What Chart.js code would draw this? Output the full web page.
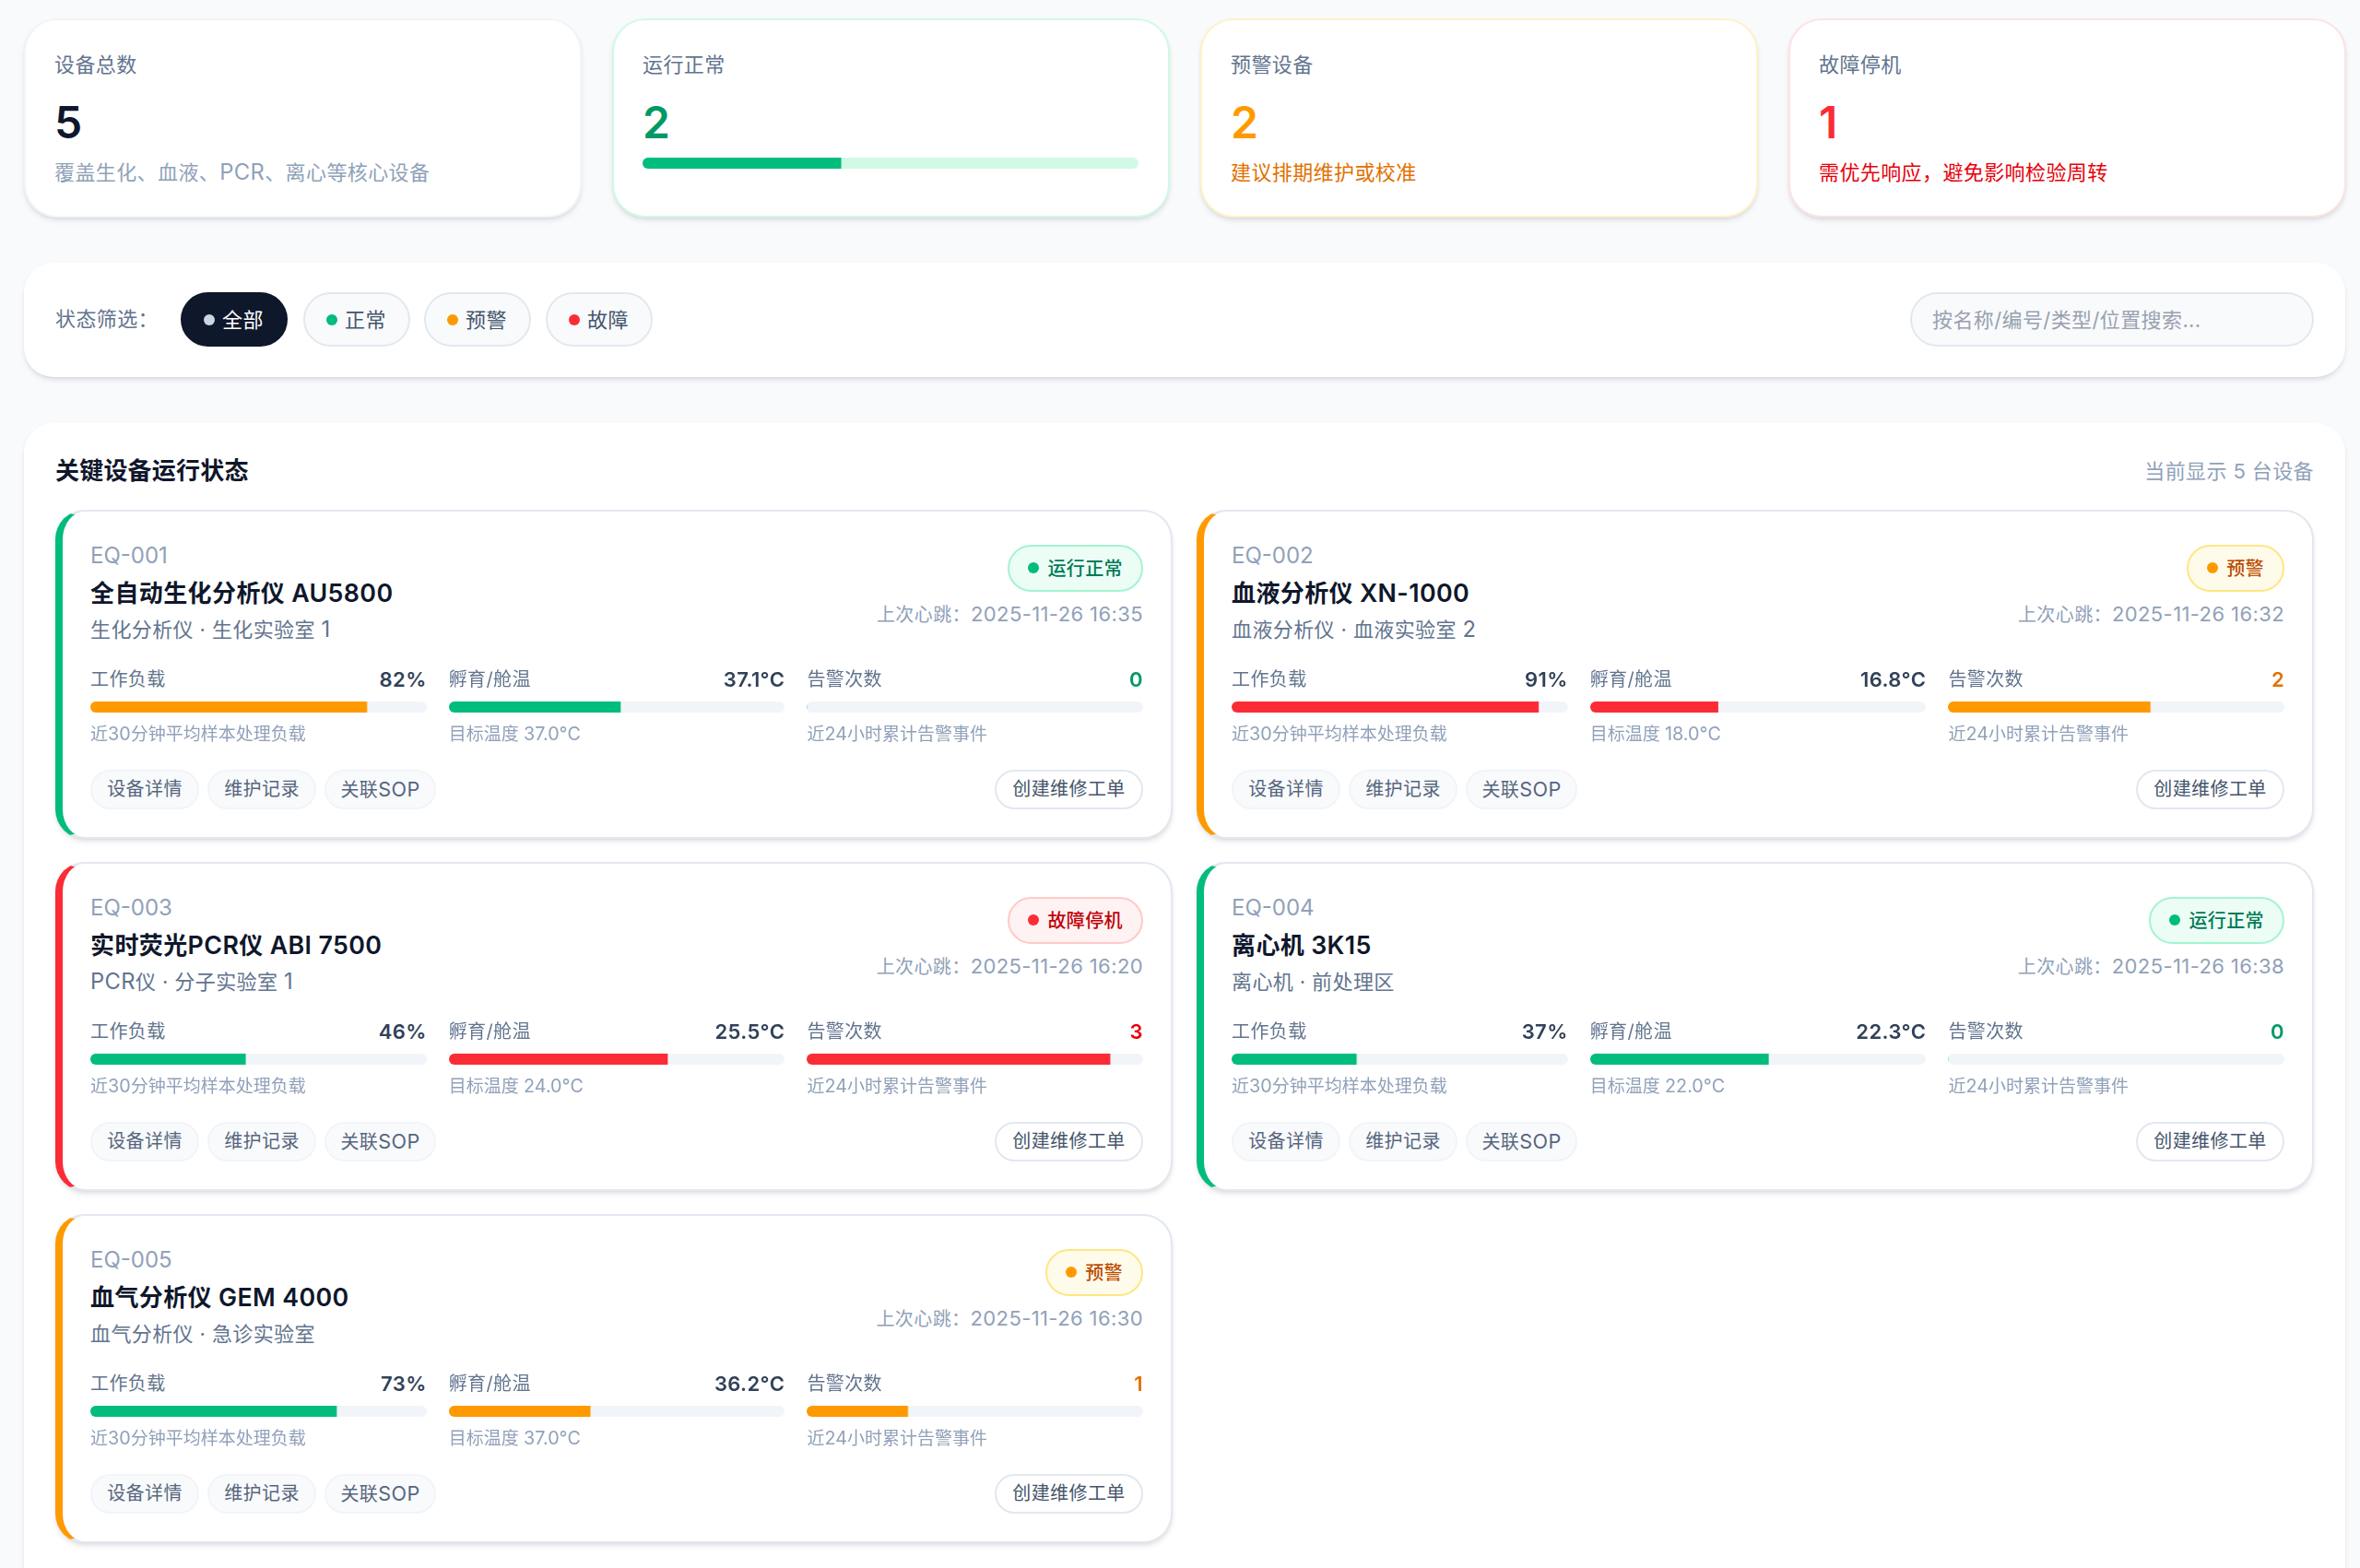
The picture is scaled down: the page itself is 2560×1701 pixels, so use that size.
<!DOCTYPE html>
<html lang="zh-CN">
<head>
<meta charset="utf-8">
<title>关键设备运行状态</title>
<script src="https://cdn.jsdelivr.net/npm/chart.js@4/dist/chart.umd.min.js"></script>
<style>
* { box-sizing: border-box; margin: 0; padding: 0; }
html, body { width: 2560px; height: 1701px; overflow: hidden; background: #f8fafc; }
body { font-family: Inter, "Noto Sans CJK SC", sans-serif; color: #0f172b; position: relative; letter-spacing: 0.4px; }
.en { font-size: 1.08em; }
.panel { position: absolute; background: #fff; border-radius: 32px; box-shadow: 0 4px 6px -1px rgba(15,23,43,.1), 0 2px 4px -2px rgba(15,23,43,.1); }
.stat { position: absolute; top: 20px; width: 605px; height: 216px; background: #fff; border: 2px solid #f1f5f9; border-radius: 36px; box-shadow: 0 4px 6px -1px rgba(15,23,43,.1), 0 2px 4px -2px rgba(15,23,43,.1); }
.stat .label { position: absolute; left: 31px; top: 31px; font-size: 22px; line-height: 34px; color: #62748e; }
.stat .num { position: absolute; left: 31px; top: 83px; font-size: 48px; line-height: 56px; font-weight: 600; }
.stat .note { position: absolute; left: 31px; top: 148px; font-size: 22px; line-height: 34px; }
.bar { height: 12px; border-radius: 6px; overflow: hidden; background: #f1f5f9; }
.filter { left: 26px; top: 285px; width: 2518px; height: 124px; }
.filter .label { position: absolute; left: 34px; top: 44px; font-size: 22px; line-height: 34px; color: #62748e; }
.pill { position: absolute; top: 32px; width: 116px; height: 59px; border-radius: 30px; border: 2px solid #e2e8f0; background: #f8fafc; font-size: 22px; line-height: 57px; color: #45556c; padding-left: 43px; }
.pill i { position: absolute; left: 23px; top: 22px; width: 12px; height: 12px; border-radius: 50%; }
.pill.on { background: #0f172b; border-color: #0f172b; color: #fff; }
.search { position: absolute; left: 2046px; top: 32px; width: 438px; height: 59px; border-radius: 30px; border: 2px solid #e2e8f0; background: #f8fafc; font-size: 22px; line-height: 57px; color: #99a1af; padding-left: 22px; }
.main { left: 26px; top: 459px; width: 2518px; height: 1300px; }
.main h2 { position: absolute; left: 34px; top: 32px; font-size: 26px; line-height: 40px; font-weight: 600; letter-spacing: 0.2px; }
.main .count { position: absolute; right: 34px; top: 35px; font-size: 22px; line-height: 34px; color: #90a1b9; }
.device { position: absolute; width: 1212px; height: 357px; background: #fff; border: 2px solid #e2e8f0; border-left-width: 8px; border-radius: 32px; box-shadow: 0 4px 6px -1px rgba(15,23,43,.1), 0 2px 4px -2px rgba(15,23,43,.1); }
.device > div { position: absolute; }
.eq { left: 30px; top: 30px; font-size: 24px; line-height: 36px; color: #90a1b9; letter-spacing: 0; }
.name { left: 30px; top: 70px; font-size: 26px; line-height: 36px; font-weight: 600; }
.name .en { font-size: 1.03em; }
.where { left: 30px; top: 112px; font-size: 22px; line-height: 32px; color: #62748e; }
.badge { right: 30px; top: 36px; height: 51px; border-radius: 26px; border: 2px solid; font-size: 20px; line-height: 49px; font-weight: 500; padding: 0 20px 0 41px; white-space: nowrap; }
.badge i { position: absolute; left: 20px; top: 17px; width: 12px; height: 12px; border-radius: 50%; }
.beat { right: 30px; top: 96px; font-size: 20px; line-height: 30px; color: #90a1b9; white-space: nowrap; }
.beat .en { font-size: 1.1em; }
.metrics { left: 30px; right: 30px; top: 168px; display: grid; grid-template-columns: repeat(3, 1fr); column-gap: 24px; }
.head { display: flex; justify-content: space-between; height: 28px; line-height: 28px; font-size: 20px; color: #62748e; margin-bottom: 10px; }
.head b { font-size: 22px; font-weight: 600; color: #314158; }
.hint { margin-top: 9px; font-size: 19px; line-height: 28px; color: #90a1b9; letter-spacing: 0; }
.hint .en { font-size: 1.04em; }
.btns { left: 30px; top: 280px; display: flex; gap: 9px; }
.btn { height: 43px; width: 118px; text-align: center; border-radius: 22px; border: 2px solid #f1f5f9; background: #f8fafc; font-size: 20px; line-height: 39px; color: #56667d; }
.btn:last-child { width: 121px; }
.make { right: 30px; top: 280px; height: 43px; width: 161px; text-align: center; border-radius: 22px; border: 2px solid #e2e8f0; background: #fff; font-size: 20px; line-height: 39px; color: #45556c; }
</style>
</head>
<body>
<div id="page"></div>
<script>
// summary cards
const summaryLabels = ['设备总数', '运行正常', '预警设备', '故障停机'];
const summaryValues = [5, 2, 2, 1];
const summaryNotes = ['覆盖生化、血液、PCR、离心等核心设备', '', '建议排期维护或校准', '需优先响应，避免影响检验周转'];
const normalShare = [40];

// filter row
const filterLabels = ['全部', '正常', '预警', '故障'];

// devices
const deviceIds = ['EQ-001', 'EQ-002', 'EQ-003', 'EQ-004', 'EQ-005'];
const deviceNames = ['全自动生化分析仪 AU5800', '血液分析仪 XN-1000', '实时荧光PCR仪 ABI 7500', '离心机 3K15', '血气分析仪 GEM 4000'];
const devicePlaces = ['生化分析仪 · 生化实验室 1', '血液分析仪 · 血液实验室 2', 'PCR仪 · 分子实验室 1', '离心机 · 前处理区', '血气分析仪 · 急诊实验室'];
const deviceStates = ['ok', 'warn', 'bad', 'ok', 'warn'];
const heartbeats = ['2025-11-26 16:35', '2025-11-26 16:32', '2025-11-26 16:20', '2025-11-26 16:38', '2025-11-26 16:30'];

const loadValues = [82, 91, 46, 37, 73];
const loadStates = ['warn', 'bad', 'ok', 'ok', 'ok'];
const tempValues = ['37.1', '16.8', '25.5', '22.3', '36.2'];
const tempTargets = ['37.0', '18.0', '24.0', '22.0', '37.0'];
const tempFill = [51, 38, 65, 53, 42];
const tempStates = ['ok', 'bad', 'bad', 'ok', 'warn'];
const alertCounts = [0, 2, 3, 0, 1];
const alertFill = [0, 60, 90, 0, 30];
const alertStates = ['ok', 'warn', 'bad', 'ok', 'warn'];

const stateText = { ok: '运行正常', warn: '预警', bad: '故障停机' };
const colors = {
    none: { fill: '#0f172b', strong: '#0f172b', big: '#0f172b', note: '#90a1b9', soft: '#f1f5f9' },
    ok: { fill: '#00bc7d', strong: '#009966', big: '#009966', note: '#009966', soft: '#d0fae5', edge: '#a4f4cf', tint: '#ecfdf5', ink: '#007a55' },
    warn: { fill: '#fe9a00', strong: '#e17100', big: '#fe9a00', note: '#e17100', soft: '#fef3c6', edge: '#fee685', tint: '#fffbeb', ink: '#bb4d00' },
    bad: { fill: '#fb2c36', strong: '#e7000b', big: '#fb2c36', note: '#e7000b', soft: '#ffe2e2', edge: '#ffc9c9', tint: '#fef2f2', ink: '#c10007' }
};

const page = document.getElementById('page');
const pendingBars = [];

// latin runs sit a little larger next to the CJK text
function latin(text) {
    return text.replace(/[A-Za-z0-9][A-Za-z0-9 .:°\-]*/g, m => `<span class="en">${m}</span>`);
}

// every progress bar is a small horizontal Chart.js bar chart
function barSlot(value, color, track, style) {
    const id = 'bar' + pendingBars.length;
    pendingBars.push({ id, value, color });
    return `<div class="bar" style="background:${track || '#f1f5f9'};${style || ''}"><canvas id="${id}"></canvas></div>`;
}

function drawBar(item) {
    new Chart(document.getElementById(item.id), {
        type: 'bar',
        data: {
            labels: [''],
            datasets: [{
                data: [item.value],
                backgroundColor: item.color,
                borderWidth: 0,
                barPercentage: 1,
                categoryPercentage: 1
            }]
        },
        options: {
            indexAxis: 'y',
            responsive: true,
            maintainAspectRatio: false,
            animation: false,
            events: [],
            layout: { padding: 0 },
            scales: {
                x: { display: false, min: 0, max: 100 },
                y: { display: false }
            },
            plugins: { legend: { display: false }, tooltip: { enabled: false } }
        }
    });
}

function metric(label, value, valueColor, barHtml, hint) {
    return `<div>
        <div class="head"><span>${label}</span><b style="color:${valueColor || ''}">${value}</b></div>
        ${barHtml}
        <div class="hint">${latin(hint)}</div>
    </div>`;
}

let html = '';

// summary cards
const summaryStates = ['none', 'ok', 'warn', 'bad'];
summaryLabels.forEach((label, i) => {
    const c = colors[summaryStates[i]];
    const left = 26 + i * 638;
    const extra = i === 1
        ? barSlot(normalShare[0], c.fill, c.soft, 'position:absolute;left:31px;right:32px;top:149px')
        : `<div class="note" style="color:${c.note}">${latin(summaryNotes[i])}</div>`;
    html += `<div class="stat" style="left:${left}px;border-color:${c.soft}">
        <div class="label">${label}</div>
        <div class="num" style="color:${c.big}">${summaryValues[i]}</div>
        ${extra}
    </div>`;
});

// filter row
const filterDots = ['#cad5e2', colors.ok.fill, colors.warn.fill, colors.bad.fill];
const pillLeft = [170, 303, 434, 566];
html += '<div class="panel filter"><div class="label">状态筛选：</div>';
filterLabels.forEach((label, i) => {
    html += `<div class="pill ${i === 0 ? 'on' : ''}" style="left:${pillLeft[i]}px"><i style="background:${filterDots[i]}"></i>${label}</div>`;
});
html += '<div class="search">按名称/编号/类型/位置搜索...</div></div>';

// device list
html += `<div class="panel main"><h2>关键设备运行状态</h2><div class="count">当前显示 ${deviceIds.length} 台设备</div>`;
deviceIds.forEach((id, i) => {
    const state = colors[deviceStates[i]];
    const left = 34 + (i % 2) * 1238;
    const top = 94 + Math.floor(i / 2) * 382;
    html += `<div class="device" style="left:${left}px;top:${top}px;border-left-color:${state.fill}">
        <div class="eq">${id}</div>
        <div class="name">${latin(deviceNames[i])}</div>
        <div class="where">${latin(devicePlaces[i])}</div>
        <div class="badge" style="background:${state.tint};border-color:${state.edge};color:${state.ink}"><i style="background:${state.fill}"></i>${stateText[deviceStates[i]]}</div>
        <div class="beat">上次心跳：<span class="en">${heartbeats[i]}</span></div>
        <div class="metrics">
            ${metric('工作负载', loadValues[i] + '%', '', barSlot(loadValues[i], colors[loadStates[i]].fill), '近30分钟平均样本处理负载')}
            ${metric('孵育/舱温', tempValues[i] + '°C', '', barSlot(tempFill[i], colors[tempStates[i]].fill), '目标温度 ' + tempTargets[i] + '°C')}
            ${metric('告警次数', alertCounts[i], colors[alertStates[i]].strong, barSlot(alertFill[i], colors[alertStates[i]].fill), '近24小时累计告警事件')}
        </div>
        <div class="btns"><span class="btn">设备详情</span><span class="btn">维护记录</span><span class="btn">关联<span class="en">SOP</span></span></div>
        <div class="make">创建维修工单</div>
    </div>`;
});
html += '</div>';

page.innerHTML = html;
pendingBars.forEach(drawBar);
</script>
</body>
</html>
